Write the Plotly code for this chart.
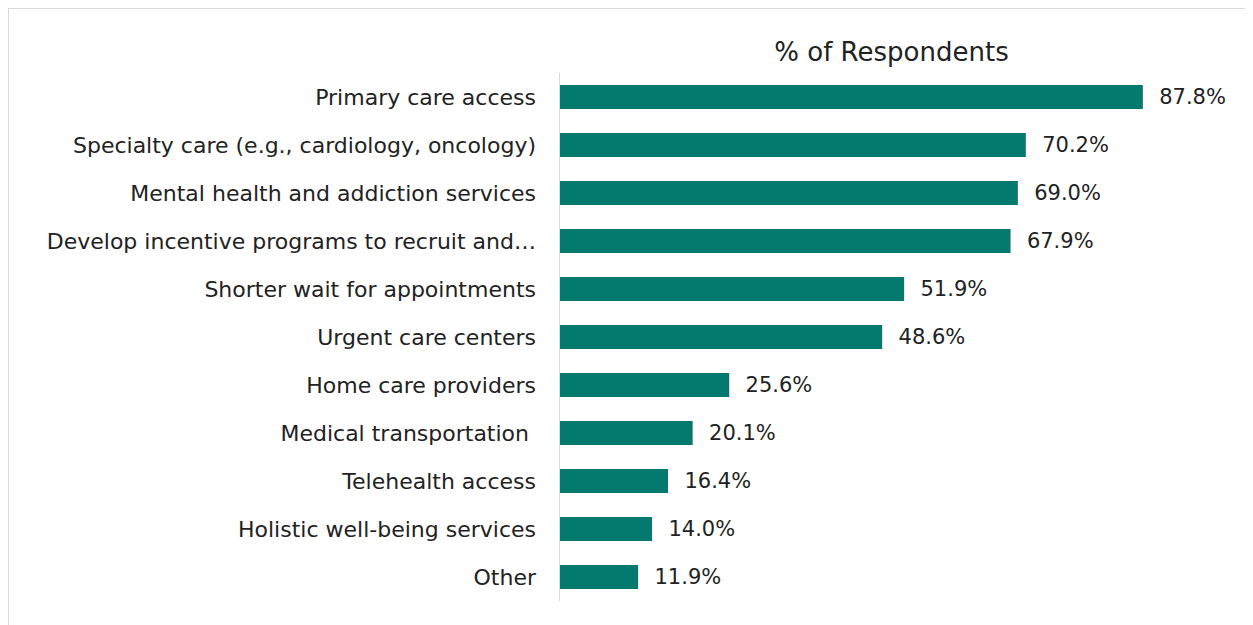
import plotly.graph_objects as go

categories = [
    "Primary care access",
    "Specialty care (e.g., cardiology, oncology)",
    "Mental health and addiction services",
    "Develop incentive programs to recruit and…",
    "Shorter wait for appointments",
    "Urgent care centers",
    "Home care providers",
    "Medical transportation ",
    "Telehealth access",
    "Holistic well-being services",
    "Other",
]
percent = [87.8, 70.2, 69.0, 67.9, 51.9, 48.6, 25.6, 20.1, 16.4, 14.0, 11.9]

teal = "#047A6F"
font_family = "DejaVu Sans"

# the page body adds an 8px margin, so the figure is drawn 8px smaller
W, H = 1245, 617
left, right, top, bottom = 551, 29, 65, 24

fig = go.Figure()

fig.add_trace(
    go.Bar(
        x=percent,
        y=categories,
        orientation="h",
        marker=dict(color=teal, line=dict(width=0)),
        width=0.5,
        texttemplate="  %{x:.1f}%",
        textposition="outside",
        textfont=dict(size=21, color="#222222", family=font_family),
        cliponaxis=False,
        hoverinfo="skip",
    )
)

plot_w = W - left - right
plot_h = H - top - bottom

fig.update_layout(
    width=W,
    height=H,
    margin=dict(l=left, r=right, t=top, b=bottom),
    paper_bgcolor="white",
    plot_bgcolor="white",
    showlegend=False,
    font=dict(family=font_family, color="#222222"),
    title=dict(
        text="% of Respondents",
        x=(left + plot_w / 2) / W,
        xanchor="center",
        y=1 - 44 / H,
        yanchor="middle",
        font=dict(size=26, family=font_family, color="#222222"),
    ),
    xaxis=dict(
        range=[0, 100],
        visible=False,
        fixedrange=True,
    ),
    yaxis=dict(
        autorange="reversed",
        showgrid=False,
        zeroline=False,
        showline=False,
        ticks="",
        ticklabelstandoff=22,
        tickfont=dict(size=22, family=font_family, color="#222222"),
    ),
    shapes=[
        dict(
            type="line", xref="x", yref="paper",
            x0=0, x1=0, y0=0, y1=1,
            line=dict(color="#D9D9D9", width=2),
        ),
        dict(
            type="rect", xref="paper", yref="paper",
            x0=-left / plot_w, x1=1.1,
            y0=-0.1, y1=(plot_h + top) / plot_h,
            line=dict(color="#D9D9D9", width=2),
            fillcolor="rgba(0,0,0,0)",
            layer="below",
        ),
    ],
)

fig.write_html("out.html")
